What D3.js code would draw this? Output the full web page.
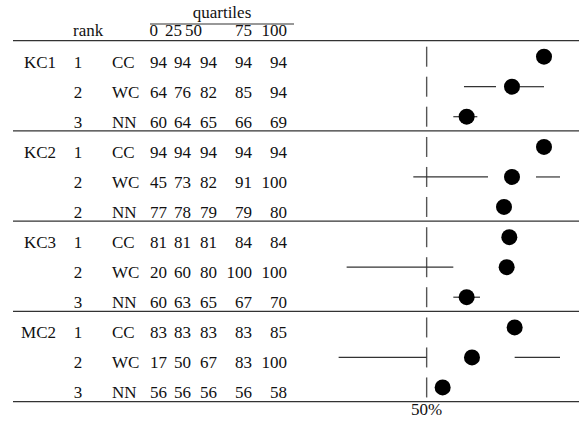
<!DOCTYPE html>
<html>
<head>
<meta charset="utf-8">
<script src="https://cdn.jsdelivr.net/npm/d3@7"></script>
<style>
  body { margin: 0; background: white; }
</style>
</head>
<body>
<div id="quartile-table"></div>
<script>
'use strict';

const groups = ['KC1', 'KC2', 'KC3', 'MC2'];
const methods = ['CC', 'WC', 'NN'];
const ranks = [[1, 2, 3], [1, 2, 2], [1, 2, 3], [1, 2, 3]];
const q0 = [94, 64, 60, 94, 45, 77, 81, 20, 60, 83, 17, 56];
const q25 = [94, 76, 64, 94, 73, 78, 81, 60, 63, 83, 50, 56];
const q50 = [94, 82, 65, 94, 82, 79, 81, 80, 65, 83, 67, 56];
const q75 = [94, 85, 66, 94, 91, 79, 84, 100, 67, 83, 83, 56];
const q100 = [94, 94, 69, 94, 100, 80, 84, 100, 70, 85, 100, 58];
const quartileLabels = ['0', '25', '50', '75', '100'];
const refValue = 50;

const width = 579, height = 422;

const svg = d3.select('#quartile-table')
              .append('svg')
                .attr('width', width)
                .attr('height', height);

// plain text helper, serif like the original table
function addText(sel) {
  return sel.append('text')
            .style('font-family', "'Times New Roman'")
            .attr('font-size', 17)
            .attr('fill', '#111');
}

// plot scale on the right side
const x = d3.scaleLinear().domain([0, 100]).range([293.3, 560]);
// one band per group, rows inside the band
const yGroup = d3.scaleBand().domain(groups).range([40.7, 401.7]);
const yRow = d3.scalePoint().domain([0, 1, 2]).range([16, 76]);

// table columns (right edges for numbers)
const numCols = [167, 191, 217, 252, 287];
const headCols = [158, 182, 202, 252, 287];

const rows = [];
groups.forEach((g, gi) => {
  methods.forEach((m, mi) => {
    const i = gi * methods.length + mi;
    rows.push({
      group: g,
      first: mi === 0,
      rank: ranks[gi][mi],
      method: m,
      vals: [q0[i], q25[i], q50[i], q75[i], q100[i]],
      y: yGroup(g) + yRow(mi),
    });
  });
});

// header
addText(svg).attr('x', 222).attr('y', 18)
   .attr('text-anchor', 'middle').text('quartiles');
svg.append('line')
   .attr('x1', 150).attr('x2', 294).attr('y1', 24).attr('y2', 24)
   .attr('stroke', '#333').attr('stroke-width', 1.2);
addText(svg).attr('x', 73).attr('y', 36).text('rank');
quartileLabels.forEach((lab, i) => {
  addText(svg).attr('x', headCols[i]).attr('y', 36)
     .attr('text-anchor', 'end').text(lab);
});

// horizontal rules
const ruleYs = groups.map(g => yGroup(g)).concat([yGroup.range()[1]]);
svg.selectAll('line.rule')
   .data(ruleYs)
   .enter().append('line')
     .attr('class', 'rule')
     .attr('x1', 13).attr('x2', width)
     .attr('y1', d => d).attr('y2', d => d)
     .attr('stroke', '#333').attr('stroke-width', 1.2);

const rowG = svg.selectAll('g.row')
                .data(rows)
                .enter().append('g')
                  .attr('class', 'row');

// table text
addText(rowG.filter(d => d.first))
    .attr('x', 56).attr('y', d => d.y + 11)
    .attr('text-anchor', 'end')
    .text(d => d.group);
addText(rowG)
    .attr('x', 78).attr('y', d => d.y + 11)
    .attr('text-anchor', 'middle')
    .text(d => d.rank);
addText(rowG)
    .attr('x', 112).attr('y', d => d.y + 11)
    .text(d => d.method);
rowG.each(function(d) {
  const g = d3.select(this);
  d.vals.forEach((v, i) => {
    addText(g).attr('x', numCols[i]).attr('y', d.y + 11)
       .attr('text-anchor', 'end').text(v);
  });
});

// 50% reference marks
rowG.append('line')
    .attr('x1', x(refValue)).attr('x2', x(refValue))
    .attr('y1', d => d.y - 10).attr('y2', d => d.y + 10)
    .attr('stroke', '#555').attr('stroke-width', 1.4);

// whiskers: min..q25 and q75..max
rowG.append('line')
    .attr('x1', d => x(d.vals[0])).attr('x2', d => x(d.vals[1]))
    .attr('y1', d => d.y).attr('y2', d => d.y)
    .attr('stroke', '#333').attr('stroke-width', 1.2);
rowG.append('line')
    .attr('x1', d => x(d.vals[3])).attr('x2', d => x(d.vals[4]))
    .attr('y1', d => d.y).attr('y2', d => d.y)
    .attr('stroke', '#333').attr('stroke-width', 1.2);

// median dot
rowG.append('circle')
    .attr('cx', d => x(d.vals[2]))
    .attr('cy', d => d.y)
    .attr('r', 8)
    .attr('fill', 'black');

addText(svg)
   .attr('x', x(refValue)).attr('y', 415)
   .attr('text-anchor', 'middle')
   .text(refValue + '%');
</script>
</body>
</html>
